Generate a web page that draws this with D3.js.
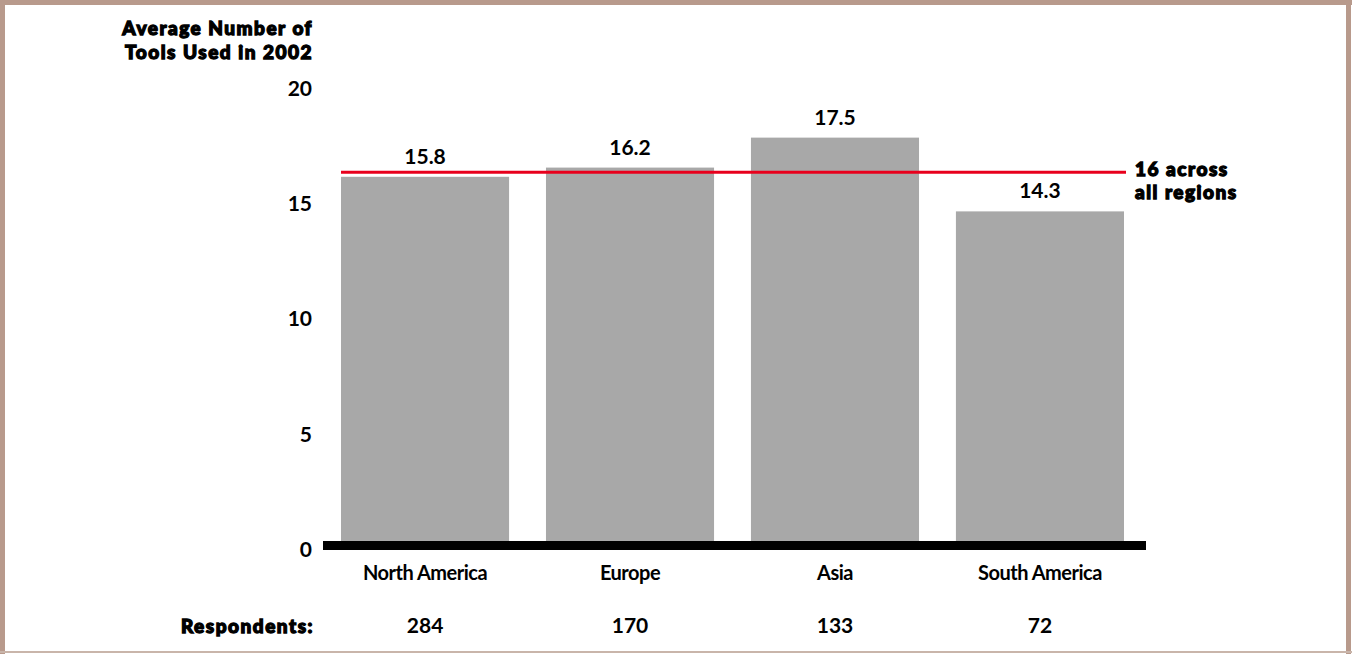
<!DOCTYPE html>
<html lang="en">
<head>
    <meta charset="UTF-8">
    <title>Average number of tools</title>
    <script src="https://d3js.org/d3.v7.min.js"></script>
    <style>
      body { margin: 0; background: #fff; }
      #chart svg { font-family: Lato, Arial, sans-serif; display: block; }
      .heavy { font-weight: 900; stroke: #000; stroke-width: 1.3px; paint-order: stroke; letter-spacing: 1.5px; }
    </style>
</head>
<body>
<div id="chart"></div>

<script>
// chart data
var regions = ["North America", "Europe", "Asia", "South America"];
var avgTools = [15.8, 16.2, 17.5, 14.3];
var respondents = [284, 170, 133, 72];
var overallAvg = 16;
var yTicks = [0, 5, 10, 15, 20];
var titleLines = ["Average Number of", "Tools Used in 2002"];
var avgLabelLines = ["16 across", "all regions"];

var width = 1352, height = 654;

var svg = d3.select("#chart").append("svg")
    .attr("width", width)
    .attr("height", height);

// frame
var frameColor = "#b89a8c";
svg.append("rect").attr("x", 0).attr("y", 0).attr("width", width).attr("height", 5).attr("fill", frameColor);
svg.append("rect").attr("x", 0).attr("y", 0).attr("width", 5).attr("height", height).attr("fill", frameColor);
svg.append("rect").attr("x", 1346).attr("y", 0).attr("width", 5).attr("height", height).attr("fill", frameColor);
svg.append("rect").attr("x", 0).attr("y", 651).attr("width", width).attr("height", 2).attr("fill", "#c9b5aa");

var x = d3.scaleBand()
    .domain(regions)
    .range([341, 1124])
    .paddingInner(0.18)
    .paddingOuter(0);

var y = d3.scaleLinear()
    .domain([0, 20])
    .range([541, 80]);

// y axis labels only
var yAxis = svg.append("g")
    .attr("transform", "translate(312,0)")
    .call(d3.axisLeft(y).tickValues(yTicks).tickSize(0).tickPadding(0));
yAxis.select(".domain").remove();
yAxis.selectAll("text")
    .attr("dy", "0.35em")
    .attr("y", 8)
    .style("font-size", "21px")
    .style("font-weight", "bold")
    .style("font-family", "Lato, Arial, sans-serif")
    .attr("fill", "#000");

// title
svg.append("text")
    .attr("class", "heavy")
    .attr("text-anchor", "end")
    .style("font-size", "19px")
    .selectAll("tspan")
    .data(titleLines)
    .enter().append("tspan")
    .attr("x", 313)
    .attr("y", (d, i) => 35 + i * 24)
    .text(d => d);

// bars
svg.selectAll(".bar")
    .data(regions)
    .enter().append("rect")
    .attr("class", "bar")
    .attr("x", d => x(d))
    .attr("width", x.bandwidth())
    .attr("y", (d, i) => y(avgTools[i]))
    .attr("height", (d, i) => y(0) - y(avgTools[i]))
    .attr("fill", "#a8a8a8");

// value labels
svg.selectAll(".val")
    .data(regions)
    .enter().append("text")
    .attr("class", "val")
    .attr("x", d => x(d) + x.bandwidth() / 2)
    .attr("y", (d, i) => y(avgTools[i]) - 13)
    .attr("text-anchor", "middle")
    .style("font-size", "21px")
    .style("font-weight", "bold")
    .text((d, i) => avgTools[i].toFixed(1));

// baseline
svg.append("rect")
    .attr("x", 323)
    .attr("y", y(0))
    .attr("width", 1146 - 323)
    .attr("height", 9)
    .attr("fill", "#000");

// overall average line
svg.append("line")
    .attr("x1", x(regions[0]))
    .attr("x2", 1126)
    .attr("y1", y(overallAvg))
    .attr("y2", y(overallAvg))
    .attr("stroke", "#e8001c")
    .attr("stroke-width", 3);

svg.append("text")
    .attr("class", "heavy")
    .style("font-size", "19px")
    .selectAll("tspan")
    .data(avgLabelLines)
    .enter().append("tspan")
    .attr("x", 1135)
    .attr("y", (d, i) => y(overallAvg) + 4 + i * 23)
    .text(d => d);

// category labels
svg.selectAll(".cat")
    .data(regions)
    .enter().append("text")
    .attr("class", "cat")
    .attr("x", d => x(d) + x.bandwidth() / 2)
    .attr("y", 580)
    .attr("text-anchor", "middle")
    .style("font-size", "20px")
    .style("font-weight", "bold")
    .style("letter-spacing", "-0.5px")
    .text(d => d);

// respondents row
svg.append("text")
    .attr("class", "heavy")
    .attr("x", 314)
    .attr("y", 633)
    .attr("text-anchor", "end")
    .style("font-size", "19px")
    .text("Respondents:");

svg.selectAll(".resp")
    .data(regions)
    .enter().append("text")
    .attr("class", "resp")
    .attr("x", d => x(d) + x.bandwidth() / 2)
    .attr("y", 633)
    .attr("text-anchor", "middle")
    .style("font-size", "21px")
    .style("font-weight", "bold")
    .text((d, i) => respondents[i]);
</script>
</body>
</html>
